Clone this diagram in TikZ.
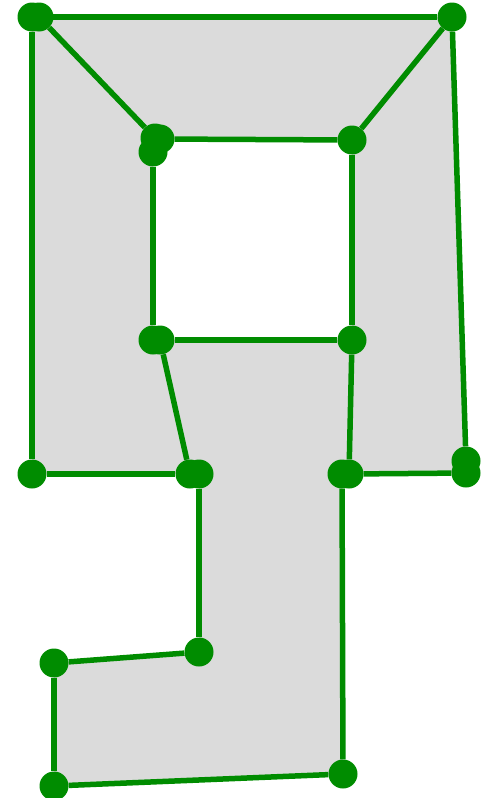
\documentclass[tikz,border=0pt]{standalone}
\usetikzlibrary{backgrounds}
\definecolor{edgegreen}{RGB}{0,140,0}
\definecolor{regiongray}{RGB}{219,219,219}
\tikzset{
  dot/.style={circle,fill=edgegreen,inner sep=0pt,minimum size=29pt},
  edge/.style={draw=edgegreen,line width=5.5pt},
}
\begin{document}
\begin{tikzpicture}[x=1pt,y=-1pt]
\useasboundingbox (0,0) rectangle (481,798);
% dots
\node[dot] (a1) at (32,17) {};
\node[dot] (a2) at (39,17) {};
\node[dot] (b)  at (452,17) {};
\node[dot] (c1) at (155,138) {};
\node[dot] (c2) at (160,139) {};
\node[dot] (c3) at (153,152) {};
\node[dot] (d)  at (352,140) {};
\node[dot] (e1) at (153,340) {};
\node[dot] (e2) at (160,340) {};
\node[dot] (f)  at (352,340) {};
\node[dot] (g)  at (32,474) {};
\node[dot] (h1) at (190,474) {};
\node[dot] (h2) at (199,474) {};
\node[dot] (i1) at (342,474) {};
\node[dot] (i2) at (349,474) {};
\node[dot] (j1) at (466,461) {};
\node[dot] (j2) at (466,473) {};
\node[dot] (k)  at (199,652) {};
\node[dot] (l)  at (54,663) {};
\node[dot] (m)  at (54,786) {};
\node[dot] (n)  at (343,774) {};
% region
\begin{scope}[on background layer]
\fill[regiongray,even odd rule]
  (a1.center) -- (b.center) -- (j2.center) -- (i1.center) -- (n.center) -- (m.center)
  -- (l.center) -- (k.center) -- (h2.center) -- (g.center) -- cycle
  (c3.center |- c2.center) -- (d.center) -- (f.center) -- (e1.center) -- cycle;
\end{scope}
% edges
\draw[edge] (a1) -- (b);
\draw[edge] (a1) -- (g);
\draw[edge] (a2) -- (c1);
\draw[edge] (b) -- (d);
\draw[edge] (b) -- (j1);
\draw[edge] (c2) -- (d);
\draw[edge] (c3) -- (e1);
\draw[edge] (d) -- (f);
\draw[edge] (e2) -- (f);
\draw[edge] (e2) -- (h1);
\draw[edge] (f) -- (i2);
\draw[edge] (g) -- (h1);
\draw[edge] (i2) -- (j2);
\draw[edge] (h2) -- (k);
\draw[edge] (k) -- (l);
\draw[edge] (l) -- (m);
\draw[edge] (m) -- (n);
\draw[edge] (n) -- (i1);
\end{tikzpicture}
\end{document}
